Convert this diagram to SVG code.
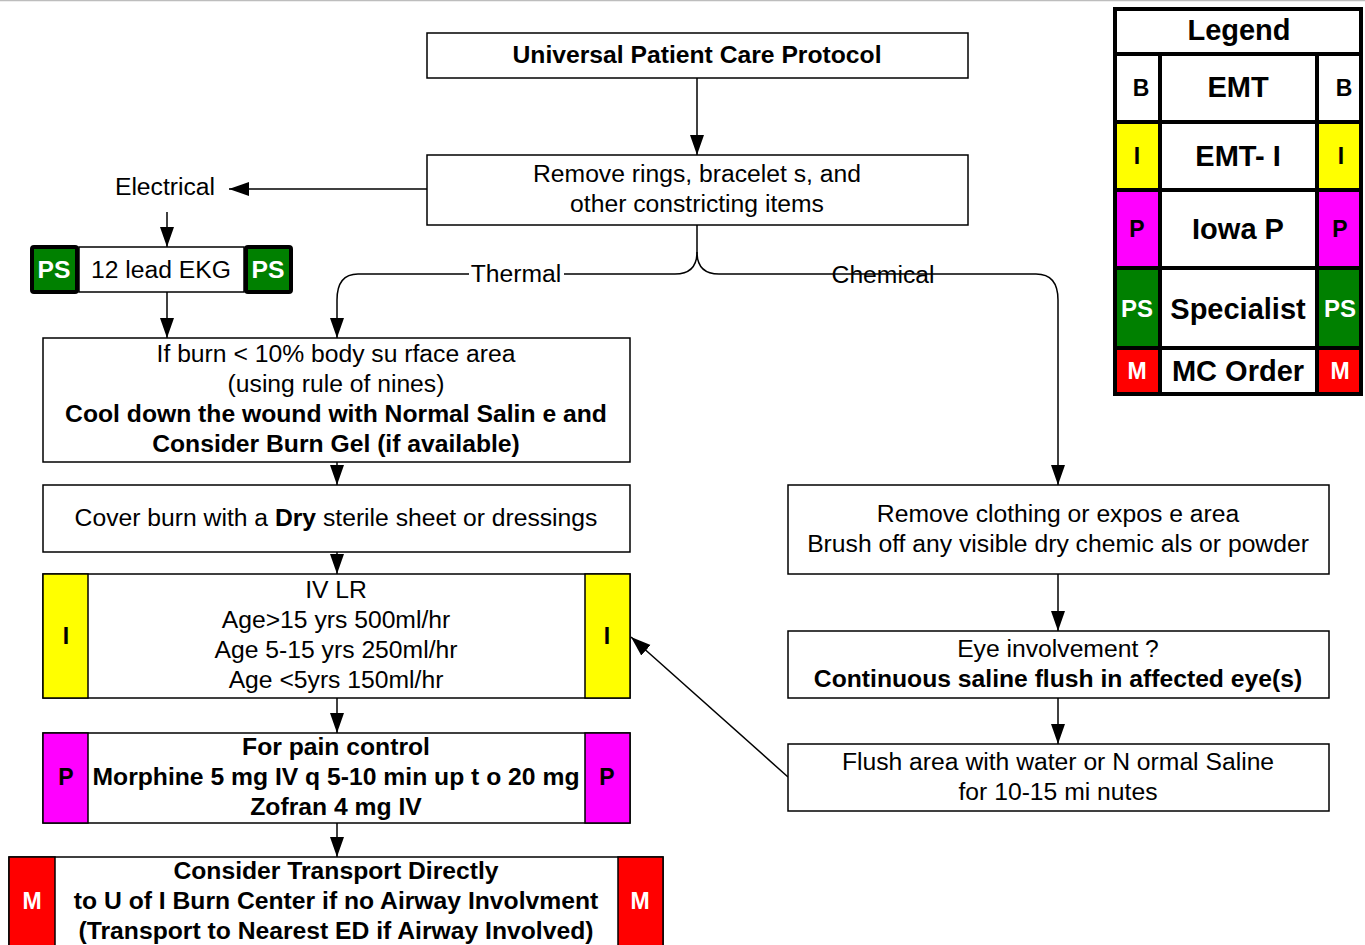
<svg xmlns="http://www.w3.org/2000/svg" width="1365" height="945" viewBox="0 0 1365 945">
<style>
text{font-family:"Liberation Sans",Arial,sans-serif;font-size:24.7px;fill:#000;text-anchor:middle}
.b{font-weight:bold}
.w{fill:#fff}
.box{fill:#fff;stroke:#000;stroke-width:1.5}
.conn{fill:none;stroke:#000;stroke-width:1.5}
.yel{fill:#ffff00;stroke:#000;stroke-width:1.5}
.mag{fill:#ff00ff;stroke:#000;stroke-width:1.5}
.red{fill:#ff0000;stroke:#000;stroke-width:1.5}
.grn{fill:#008000;stroke:#000;stroke-width:4}
.lt{font-size:29px;font-weight:bold}
.ls{font-size:23px;font-weight:bold}
.sl{font-size:23px;font-weight:bold}
</style>
<defs>
<marker id="ah" markerWidth="20" markerHeight="16" refX="20" refY="7" orient="auto" markerUnits="userSpaceOnUse">
<path d="M0,0 L20,7 L0,14 Z" fill="#000"/>
</marker>
</defs>
<rect x="0" y="0" width="1365" height="945" fill="#fff"/>
<line x1="0" y1="0.5" x2="1365" y2="0.5" stroke="#bdbdbd" stroke-width="1.5"/>

<g id="connectors">
<path class="conn" d="M697,78 L697,155" marker-end="url(#ah)"/>
<path class="conn" d="M427,189 L229,189" marker-end="url(#ah)"/>
<path class="conn" d="M167,212 L167,247" marker-end="url(#ah)"/>
<path class="conn" d="M167,292 L167,338" marker-end="url(#ah)"/>
<path class="conn" d="M697,225 L697,252 Q697,274 675,274 L358,274 Q337,274 337,300 L337,338" marker-end="url(#ah)"/>
<path class="conn" d="M697,252 Q697,274 719,274 L1036,274 Q1058,274 1058,300 L1058,485" marker-end="url(#ah)"/>
<path class="conn" d="M337,462 L337,485" marker-end="url(#ah)"/>
<path class="conn" d="M337,552 L337,574" marker-end="url(#ah)"/>
<path class="conn" d="M337,698 L337,733" marker-end="url(#ah)"/>
<path class="conn" d="M337,823 L337,857" marker-end="url(#ah)"/>
<path class="conn" d="M1058,574 L1058,631" marker-end="url(#ah)"/>
<path class="conn" d="M1058,698 L1058,744" marker-end="url(#ah)"/>
<path class="conn" d="M788,777 L631,637" marker-end="url(#ah)"/>
<rect x="469" y="262" width="95" height="24" fill="#fff"/>
<text x="516" y="282">Thermal</text>
<text x="883" y="283">Chemical</text>
</g>

<g id="universal">
<rect class="box" x="427" y="33" width="541" height="45"/>
<text class="b" x="697" y="63">Universal Patient Care Protocol</text>
</g>

<g id="remove-rings">
<rect class="box" x="427" y="155" width="541" height="70"/>
<text x="697" y="182">Remove rings, bracelet s, and</text>
<text x="697" y="212">other constricting items</text>
</g>

<g id="electrical">
<text x="165" y="195">Electrical</text>
</g>

<g id="ekg">
<rect class="box" x="79" y="247" width="165" height="45"/>
<rect class="grn" x="32" y="247" width="45" height="45" rx="2"/>
<rect class="grn" x="246" y="247" width="45" height="45" rx="2"/>
<text class="b w" x="54" y="278">PS</text>
<text x="161" y="278">12 lead EKG</text>
<text class="b w" x="268" y="278">PS</text>
</g>

<g id="if-burn">
<rect class="box" x="43" y="338" width="587" height="124"/>
<text x="336" y="362">If burn &lt; 10% body su rface area</text>
<text x="336" y="392">(using rule of nines)</text>
<text class="b" x="336" y="422">Cool down the wound with Normal Salin e and</text>
<text class="b" x="336" y="452">Consider Burn Gel (if available)</text>
</g>

<g id="cover-burn">
<rect class="box" x="43" y="485" width="587" height="67"/>
<text x="336" y="526">Cover burn with a <tspan class="b">Dry</tspan> sterile sheet or dressings</text>
</g>

<g id="iv-lr">
<rect class="box" x="43" y="574" width="587" height="124"/>
<rect class="yel" x="43" y="574" width="45" height="124"/>
<rect class="yel" x="585" y="574" width="45" height="124"/>
<text class="sl" x="66" y="644">I</text>
<text class="sl" x="607" y="644">I</text>
<text x="336" y="598">IV LR</text>
<text x="336" y="628">Age&gt;15 yrs 500ml/hr</text>
<text x="336" y="658">Age 5-15 yrs 250ml/hr</text>
<text x="336" y="688">Age &lt;5yrs 150ml/hr</text>
</g>

<g id="pain">
<rect class="box" x="43" y="733" width="587" height="90"/>
<rect class="mag" x="43" y="733" width="45" height="90"/>
<rect class="mag" x="585" y="733" width="45" height="90"/>
<text class="sl" x="66" y="785">P</text>
<text class="sl" x="607" y="785">P</text>
<text class="b" x="336" y="755">For pain control</text>
<text class="b" x="336" y="785">Morphine 5 mg IV q 5-10 min up t o 20 mg</text>
<text class="b" x="336" y="815">Zofran 4 mg IV</text>
</g>

<g id="transport">
<rect class="box" x="9" y="857" width="654" height="100"/>
<rect class="red" x="9" y="857" width="46" height="100"/>
<rect class="red" x="618" y="857" width="45" height="100"/>
<text class="sl w" x="32" y="909">M</text>
<text class="sl w" x="640" y="909">M</text>
<text class="b" x="336" y="879">Consider Transport Directly</text>
<text class="b" x="336" y="909">to U of I Burn Center if no Airway Involvment</text>
<text class="b" x="336" y="939">(Transport to Nearest ED if Airway Involved)</text>
</g>

<g id="chemical-remove">
<rect class="box" x="788" y="485" width="541" height="89"/>
<text x="1058" y="522">Remove clothing or expos e area</text>
<text x="1058" y="552">Brush off any visible dry chemic als or powder</text>
</g>

<g id="eye">
<rect class="box" x="788" y="631" width="541" height="67"/>
<text x="1058" y="657">Eye involvement ?</text>
<text class="b" x="1058" y="687">Continuous saline flush in affected eye(s)</text>
</g>

<g id="flush">
<rect class="box" x="788" y="744" width="541" height="67"/>
<text x="1058" y="770">Flush area with water or N ormal Saline</text>
<text x="1058" y="800">for 10-15 mi nutes</text>
</g>

<g id="legend">
<rect x="1113" y="7" width="250" height="389" fill="#000"/>
<rect x="1117" y="11" width="242" height="41" fill="#fff"/>
<text class="lt" x="1239" y="40">Legend</text>
<rect x="1117" y="56" width="41" height="64" fill="#fff"/>
<rect x="1162" y="56" width="153" height="64" fill="#fff"/>
<rect x="1319" y="56" width="40" height="64" fill="#fff"/>
<text class="ls" x="1141" y="96">B</text>
<text class="lt" x="1238" y="97">EMT</text>
<text class="ls" x="1344" y="96">B</text>
<rect x="1117" y="124" width="41" height="64" fill="#ffff00"/>
<rect x="1162" y="124" width="153" height="64" fill="#fff"/>
<rect x="1319" y="124" width="40" height="64" fill="#ffff00"/>
<text class="ls" x="1137" y="164">I</text>
<text class="lt" x="1238" y="166">EMT- I</text>
<text class="ls" x="1341" y="164">I</text>
<rect x="1117" y="192" width="41" height="74" fill="#ff00ff"/>
<rect x="1162" y="192" width="153" height="74" fill="#fff"/>
<rect x="1319" y="192" width="40" height="74" fill="#ff00ff"/>
<text class="ls" x="1137" y="237">P</text>
<text class="lt" x="1238" y="239">Iowa P</text>
<text class="ls" x="1340" y="237">P</text>
<rect x="1117" y="270" width="41" height="76" fill="#008000"/>
<rect x="1162" y="270" width="153" height="76" fill="#fff"/>
<rect x="1319" y="270" width="40" height="76" fill="#008000"/>
<text class="ls w" x="1137" y="317" style="font-size:24px">PS</text>
<text class="lt" x="1238" y="319">Specialist</text>
<text class="ls w" x="1340" y="317" style="font-size:24px">PS</text>
<rect x="1117" y="350" width="41" height="42" fill="#ff0000"/>
<rect x="1162" y="350" width="153" height="42" fill="#fff"/>
<rect x="1319" y="350" width="40" height="42" fill="#ff0000"/>
<text class="ls w" x="1137" y="379">M</text>
<text class="lt" x="1238" y="381">MC Order</text>
<text class="ls w" x="1340" y="379">M</text>
</g>
</svg>
